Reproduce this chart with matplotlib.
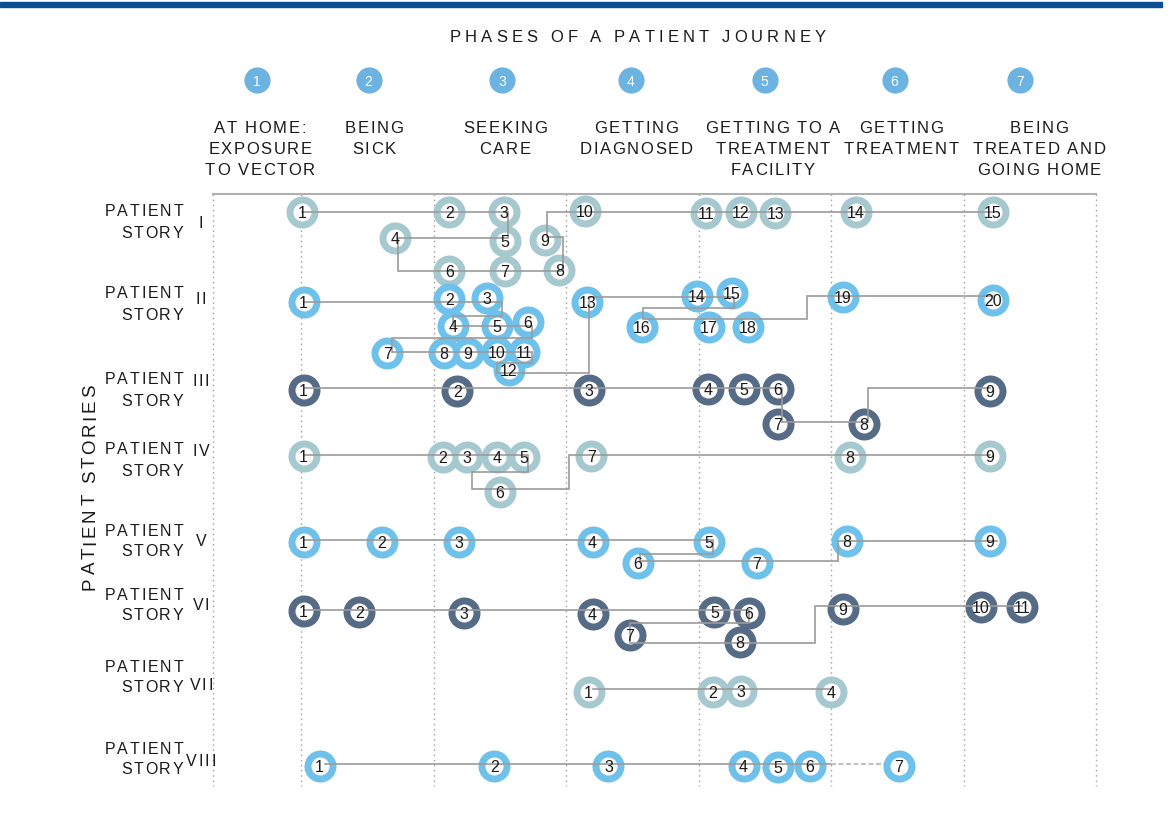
import matplotlib
matplotlib.use("Agg")
import matplotlib.pyplot as plt
from matplotlib import font_manager
from matplotlib.ft2font import FT2Font
from matplotlib.transforms import IdentityTransform
from matplotlib.patches import Rectangle

W, H, DPI = 1175, 816, 100
FONT = "Liberation Sans"
plt.rcParams["font.family"] = [FONT, "DejaVu Sans"]

# ------------------------------------------------------------------ data
title = "PHASES OF A PATIENT JOURNEY"
side_title = "PATIENT STORIES"
phase_ids = ["1", "2", "3", "4", "5", "6", "7"]
phase_names = [["AT HOME:", "EXPOSURE", "TO VECTOR"],
               ["BEING", "SICK"],
               ["SEEKING", "CARE"],
               ["GETTING", "DIAGNOSED"],
               ["GETTING TO A", "TREATMENT", "FACILITY"],
               ["GETTING", "TREATMENT"],
               ["BEING", "TREATED AND", "GOING HOME"]]
phase_badge_x = [0.67, 1.51, 2.52, 3.49, 4.50, 5.48, 6.43]
phase_name_x = [0.69, 1.55, 2.54, 3.53, 4.56, 5.53, 6.57]
phase_bounds = [1, 2, 3, 4, 5, 6, 7]

story_ids = ["I", "II", "III", "IV", "V", "VI", "VII", "VIII"]
story_label_y = [211, 293, 379, 449, 530, 594, 666, 748]
story_id_y = [222, 298, 381, 450, 540, 604, 684, 760]
story_kind = ["teal", "blue", "dark", "teal", "blue", "dark", "teal", "blue"]

# story I
s1_x = [1.01, 2.12, 2.53, 1.71, 2.54, 2.12, 2.54, 2.95, 2.84, 3.14, 4.06, 4.32, 4.58, 5.19, 6.22]
s1_y = [212, 212, 212, 238, 241, 271, 271, 270, 240, 211, 213, 212, 213, 212, 212]
r1_x = [1.01, 2.56, 2.56, 1.73, 1.73, 2.98, 2.98, 2.86, 2.86, 6.22]
r1_y = [212, 212, 238, 238, 271, 271, 237, 237, 212, 212]
# story II
s2_x = [1.02, 2.12, 2.40, 2.15, 2.48, 2.71, 1.65, 2.08, 2.26, 2.48, 2.68, 2.57, 3.16, 3.99,
        4.25, 3.57, 4.08, 4.37, 5.09, 6.22]
s2_y = [302, 299, 298, 326, 326, 322, 353, 353, 353, 352, 352, 370, 302, 296, 293, 327, 327,
        327, 297, 300]
r2_x = [1.02, 2.52, 2.52, 2.15, 2.15, 2.74, 2.74, 1.69, 1.69, 2.74, 2.74, 2.48, 2.48, 3.17,
        3.17, 4.27, 4.27, 3.58, 3.58, 4.82, 4.82, 6.22]
r2_y = [302, 302, 316, 316, 326, 326, 338, 338, 352, 352, 363, 363, 373, 373, 297, 297, 308,
        308, 319, 319, 296, 296]
# story III
s3_x = [1.02, 2.18, 3.17, 4.07, 4.34, 4.60, 4.60, 5.25, 6.20]
s3_y = [390, 391, 390, 389, 389, 389, 424, 424, 391]
r3_x = [1.02, 4.63, 4.63, 5.28, 5.28, 6.20]
r3_y = [388, 388, 422, 422, 388, 388]
# story IV
s4_x = [1.02, 2.07, 2.25, 2.48, 2.68, 2.50, 3.19, 5.14, 6.20]
s4_y = [456, 457, 457, 457, 457, 492, 456, 457, 456]
r4_x = [1.02, 2.71, 2.71, 2.29, 2.29, 3.02, 3.02, 6.20]
r4_y = [455, 455, 472, 472, 489, 489, 455, 455]
# story V
s5_x = [1.02, 1.61, 2.19, 3.20, 4.08, 3.54, 4.44, 5.12, 6.20]
s5_y = [542, 542, 542, 542, 542, 563, 563, 541, 541]
r5_x = [1.02, 4.11, 4.11, 3.56, 3.56, 5.05, 5.05, 6.25]
r5_y = [540, 540, 554, 554, 561, 561, 541, 541]
# story VI
s6_x = [1.02, 1.44, 2.23, 3.20, 4.12, 4.38, 3.48, 4.31, 5.09, 6.13, 6.44]
s6_y = [611, 612, 613, 614, 612, 613, 635, 642, 609, 607, 607]
r6_x = [1.02, 4.38, 4.38, 3.48, 3.48, 4.88, 4.88, 6.44]
r6_y = [610, 610, 623, 623, 643, 643, 606, 606]
# story VII
s7_x = [3.17, 4.11, 4.32, 5.00]
s7_y = [692, 692, 691, 692]
r7_x = [3.20, 5.00]
r7_y = [689, 689]
# story VIII
s8_x = [1.14, 2.46, 3.32, 4.34, 4.60, 4.84, 5.51]
s8_y = [766, 766, 766, 766, 767, 766, 766]
r8_x = [1.18, 5.00]
r8_y = [764, 764]
r8_dash_x = [5.00, 5.40]
r8_dash_y = [764, 764]

stories = [(s1_x, s1_y, r1_x, r1_y), (s2_x, s2_y, r2_x, r2_y), (s3_x, s3_y, r3_x, r3_y),
           (s4_x, s4_y, r4_x, r4_y), (s5_x, s5_y, r5_x, r5_y), (s6_x, s6_y, r6_x, r6_y),
           (s7_x, s7_y, r7_x, r7_y), (s8_x, s8_y, r8_x, r8_y)]

# ------------------------------------------------------------------ style
COLORS = {"teal": "#a6c9cf", "blue": "#6ec1eb", "dark": "#566c86"}
BADGE = "#6cb3e2"
BAR = "#0d4e92"
LINE = "#9b9b9b"
DOT = "#a3a3a3"
TXT = "#1a1a1a"

fig = plt.figure(figsize=(W / DPI, H / DPI), dpi=DPI)
L, R, T, B = 213, 1096, 194, 790
ax = fig.add_axes([L / W, 1 - B / H, (R - L) / W, (B - T) / H])
ax.set_xlim(1 - (301 - L) / 132.5, 7.0)
ax.set_ylim(B, T)
ax.set_xticks([])
ax.set_yticks([])
for sp in ["left", "right", "bottom"]:
    ax.spines[sp].set_visible(False)
ax.spines["top"].set_color("#b0b0b0")
ax.spines["top"].set_linewidth(1.5)
ax.patch.set_alpha(0)

fig.patches.append(Rectangle((0, 1 - 7 / H), 1162 / W, 5 / H, transform=fig.transFigure,
                             color=BAR, zorder=0))

# dotted phase boundaries
for xb in [ax.get_xlim()[0]] + phase_bounds:
    ax.plot([xb, xb], [T, 786], color=DOT, lw=1.0, ls=(0, (1.1, 2.6)), zorder=1,
            clip_on=False)

FPATH = font_manager.findfont(font_manager.FontProperties(family=FONT))


def tracked(x, y, s, size, track, ha="center", rotation=0, color=TXT, width=None):
    ft = FT2Font(FPATH)
    ft.set_size(size, DPI)
    adv = [ft.load_char(ord(c)).linearHoriAdvance / 65536 for c in s]
    if width is not None:
        track = (width - sum(adv)) / (len(s) - 1)
    total = sum(adv) + track * (len(s) - 1)
    X, Y = ax.transData.transform((x, y))
    pos = {"center": -total / 2, "right": -total, "left": 0}[ha]
    for c, a in zip(s, adv):
        if rotation == 0:
            px, py = X + pos, Y
        else:
            px, py = X, Y + pos
        fig.text(px, py, c, transform=IdentityTransform(), fontsize=size, color=color,
                 ha="left", va="baseline", rotation=rotation, rotation_mode="anchor")
        pos += a + track


# titles
tracked(3.54, 42, title, 12, 0, width=376)
tracked(1 - (301 - 95) / 132.5, 487, side_title, 13.5, 0, rotation=90, width=205)

# phase badges and names
ax.scatter(phase_badge_x, [80] * len(phase_badge_x), s=355, c=BADGE, lw=0, clip_on=False,
           zorder=3)
for xb, lab in zip(phase_badge_x, phase_ids):
    ax.text(xb, 80, lab, ha="center", va="center_baseline", fontsize=10, color="white",
            clip_on=False, zorder=4)
for xn, lines in zip(phase_name_x, phase_names):
    for k, line in enumerate(lines):
        tracked(xn, 133 + 21 * k, line, 12, 1.6)

# story labels
for sid, ly, ny in zip(story_ids, story_label_y, story_id_y):
    tracked(1 - (301 - 183) / 132.5, ly + 5.5, "PATIENT", 11.5, 1.75, ha="right")
    tracked(1 - (301 - 183) / 132.5, ly + 26.5, "STORY", 11.5, 1.75, ha="right")
    tracked(1 - (301 - 201) / 132.5, ny + 5.5, sid, 11.5, 1.75, ha="center")

# story paths
RING = (32 * 72 / DPI) ** 2
HOLE = (18 * 72 / DPI) ** 2
for kind, (xs, ys, rx, ry) in zip(story_kind, stories):
    col = COLORS[kind]
    ax.scatter(xs, ys, s=RING, c=col, lw=0, zorder=3, clip_on=False)
    ax.scatter(xs, ys, s=HOLE, c="white", lw=0, zorder=4, clip_on=False)
    ax.plot(rx, ry, color=LINE, lw=1.2, zorder=5, solid_joinstyle="miter")
    for i, (x, y) in enumerate(zip(xs, ys)):
        ax.text(x, y, str(i + 1), ha="center", va="center_baseline", fontsize=11.5,
                color=TXT, zorder=6)
ax.plot(r8_dash_x, r8_dash_y, color="#b5b5b5", lw=1.2, ls=(0, (3, 1.5)), zorder=5)

fig.savefig("out.png", dpi=DPI)
